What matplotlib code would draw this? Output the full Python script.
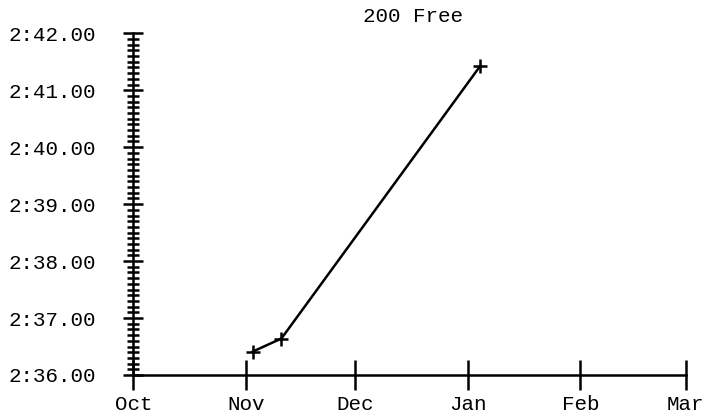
import matplotlib
matplotlib.use('Agg')
import matplotlib.pyplot as plt
import matplotlib.dates as mdates
from matplotlib.ticker import MultipleLocator, FuncFormatter
from datetime import datetime

title = '200 Free'
swim_dates = ['2023-11-02 20:00', '2023-11-10 18:00', '2024-01-04 12:00']
swim_times = [156.41, 156.64, 161.43]  # seconds
x_start = '2023-10-01'
x_end = '2024-03-01'
y_min, y_max = 156.0, 162.0

plt.rcParams['font.family'] = ['Liberation Mono', 'DejaVu Sans Mono']
plt.rcParams['font.size'] = 15


def fmt_time(v, pos=None):
    m = int(v // 60)
    s = v - m * 60
    return '%d:%05.2f' % (m, s)


fig = plt.figure(figsize=(7.06, 4.16), dpi=100)
ax = fig.add_axes([0.1888, 0.0986, 0.7825, 0.8214])

x = [datetime.strptime(d, '%Y-%m-%d %H:%M') for d in swim_dates]
ax.plot(x, swim_times, '-', color='black', lw=1.8, marker='+', ms=10, mew=1.8)

ax.set_xlim(datetime.strptime(x_start, '%Y-%m-%d'), datetime.strptime(x_end, '%Y-%m-%d'))
ax.set_ylim(y_min, y_max)

ax.xaxis.set_major_locator(mdates.MonthLocator())
ax.xaxis.set_major_formatter(mdates.DateFormatter('%b'))
ax.yaxis.set_major_locator(MultipleLocator(1))
ax.yaxis.set_minor_locator(MultipleLocator(0.1))
ax.yaxis.set_major_formatter(FuncFormatter(fmt_time))

for s in ['top', 'right']:
    ax.spines[s].set_visible(False)
for s in ['left', 'bottom']:
    ax.spines[s].set_linewidth(1.8)
    ax.spines[s].set_clip_on(False)

ax.tick_params(axis='x', which='major', direction='inout', length=21, width=1.8, pad=4)
ax.tick_params(axis='y', which='major', direction='inout', length=14, width=1.8, pad=19.5)
ax.tick_params(axis='y', which='minor', direction='inout', length=9, width=1.8)

ax.set_title(title, fontsize=15, pad=8, x=0.507)

fig.savefig('out.png', dpi=100)
